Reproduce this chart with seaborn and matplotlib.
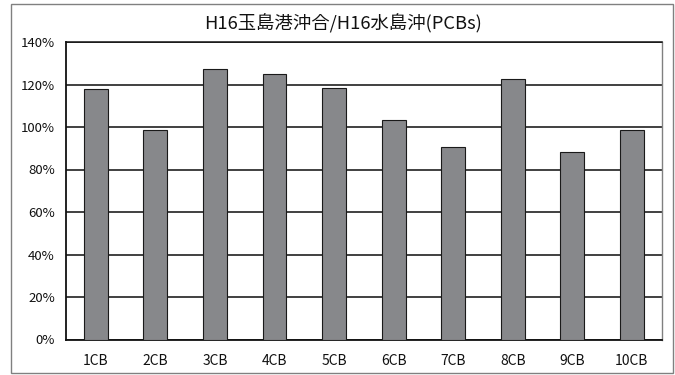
import matplotlib
matplotlib.use("Agg")
import matplotlib.pyplot as plt
import seaborn as sns
import pandas as pd
from matplotlib.patches import Rectangle

# PCB congener ratio: Tamashima offshore vs. Mizushima offshore (H16), in percent
congeners = ["1CB", "2CB", "3CB", "4CB", "5CB", "6CB", "7CB", "8CB", "9CB", "10CB"]
ratio_pct = [118.0, 98.8, 127.1, 124.8, 118.2, 103.2, 90.8, 122.7, 88.2, 98.5]
y_ticks = [0, 20, 40, 60, 80, 100, 120, 140]
y_tick_labels = [f"{v}%" for v in y_ticks]
title_text = "H16玉島港沖合/H16水島沖(PCBs)"

sns.set_style("white")
plt.rcParams["font.family"] = ["Noto Sans CJK JP", "DejaVu Sans"]

W, H = 675, 375
fig = plt.figure(figsize=(W / 100, H / 100), dpi=100)
fig.patch.set_facecolor("white")

left, right, top, bottom = 66, 661.7, 42, 339.5
ax = fig.add_axes([left / W, 1 - bottom / H, (right - left) / W, (bottom - top) / H])

df = pd.DataFrame({"congener": congeners, "ratio": ratio_pct})
sns.barplot(data=df, x="congener", y="ratio", color="#87888b", saturation=1,
            edgecolor="#1a1a1a", linewidth=0.8, width=0.4, ax=ax, zorder=3)

ax.set_xlim(-0.5, len(congeners) - 0.5)
ax.set_ylim(0, 140)
ax.set_yticks(y_ticks)
ax.set_yticklabels(y_tick_labels)
ax.set_xlabel("")
ax.set_ylabel("")

ax.yaxis.grid(True, color="#0d0d0d", linewidth=1.1)
ax.xaxis.grid(False)
ax.set_axisbelow(True)

for side in ("left", "bottom"):
    ax.spines[side].set_color("#111111")
    ax.spines[side].set_linewidth(1.3)
ax.spines["top"].set_color("#111111")
ax.spines["top"].set_linewidth(1.1)
ax.spines["right"].set_color("#808080")
ax.spines["right"].set_linewidth(1.0)

ax.tick_params(axis="y", which="major", length=0, pad=8, labelsize=9.5, colors="#111111")
ax.tick_params(axis="x", which="major", length=0, pad=10.5, labelsize=10, colors="#111111")
ax.set_xticks([i + 0.5 for i in range(len(congeners) - 1)], minor=True)
ax.tick_params(axis="x", which="minor", direction="in", length=4, width=0.8, color="#444444")

fig.text(343.5 / W, 1 - 24 / H, title_text, ha="center", va="center",
         fontsize=13.2, color="#111111")

fig.patches.append(Rectangle((11 / W, 1 - 372.7 / H), (672.7 - 11) / W, (372.7 - 4) / H,
                             transform=fig.transFigure, fill=False,
                             edgecolor="#808080", linewidth=1.0))

fig.savefig("out.png", dpi=100)
